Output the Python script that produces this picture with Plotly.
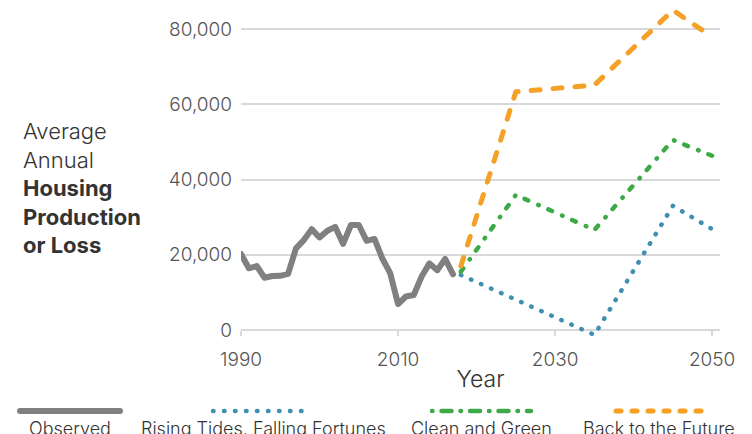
import plotly.graph_objects as go

# observed history, 1990-2017
obs_years = list(range(1990, 2018))
obs_values = [20200, 16400, 17000, 13900, 14350, 14400, 14900, 21700, 23900, 26800,
              24600, 26400, 27400, 22900, 27900, 27900, 23700, 24200, 19000, 15100,
              6900, 8900, 9300, 14200, 17700, 15900, 18900, 14800]

# scenario projections
proj_years = [2018, 2025, 2035, 2045, 2050]
rising_tides = [14600, 8000, -1300, 33000, 26800]
clean_green = [15500, 35900, 26600, 50500, 46300]
back_future = [17000, 63300, 65100, 85000, 77900]

x_ticks = [1990, 2010, 2030, 2050]

GRAY = "#808080"
BLUE = "#3F8FB0"
GREEN = "#3DAA47"
ORANGE = "#F5A027"
GRID = "#D9D9D9"
FONT = "Inter, Lato, sans-serif"
LIGHT = 300

W, H = 752, 434
OFF = 8  # page body margin: the figure sits 8px in from the window corner
L, R, T, B = 233, 40, 0, 104


def px(xs):  # screen pixel -> paper x
    return (xs - OFF - L) / (W - L - R)


def py(ys):  # screen pixel -> paper y
    return (H - B - (ys - OFF)) / (H - T - B)


fig = go.Figure()
fig.add_trace(go.Scatter(x=obs_years, y=obs_values, mode="lines",
                         line=dict(color=GRAY, width=6), name="Observed"))
fig.add_trace(go.Scatter(x=proj_years, y=rising_tides, mode="lines",
                         line=dict(color=BLUE, width=4.5, dash="0.5px,10.5px"),
                         name="Rising Tides, Falling Fortunes"))
fig.add_trace(go.Scatter(x=proj_years, y=clean_green, mode="lines",
                         line=dict(color=GREEN, width=4.5,
                                   dash="4px,11px,0.5px,10.5px"),
                         name="Clean and Green"))
fig.add_trace(go.Scatter(x=proj_years, y=back_future, mode="lines",
                         line=dict(color=ORANGE, width=5, dash="9px,13px"),
                         name="Back to the Future"))

# hand-built legend below the plot: sample line above a centred label
legend = [
    ("Observed", GRAY, 6, "solid", 20, 120, 70),
    ("Rising Tides, Falling Fortunes", BLUE, 4.5, "0.5px,10.5px", 213, 303, 263),
    ("Clean and Green", GREEN, 4.5, "0.5px,9px,10px,9px", 432, 531, 481),
    ("Back to the Future", ORANGE, 5, "5px,11px", 616, 702, 659),
]
for label, color, width, dash, x0, x1, xc in legend:
    fig.add_shape(type="line", xref="paper", yref="paper",
                  x0=px(x0), x1=px(x1), y0=py(411), y1=py(411),
                  line=dict(color=color, width=width, dash=dash))
    fig.add_annotation(text=label, xref="paper", yref="paper",
                       x=px(xc), y=py(428), xanchor="center", yanchor="middle",
                       showarrow=False,
                       font=dict(size=18, color="#333333", weight=LIGHT))

fig.add_annotation(
    text="Average<br>Annual<br><b>Housing</b><br><b>Production</b><br><b>or Loss</b>",
    xref="paper", yref="paper", x=px(21), y=py(188), xanchor="left",
    yanchor="middle", align="left", showarrow=False,
    font=dict(size=22, color="#333333", weight=LIGHT))

# screen px -> data: 0 sits at y=330, 20,000 spans 75.25px
fig.update_layout(
    width=W, height=H,
    margin=dict(l=L, r=R, t=T, b=B),
    paper_bgcolor="white", plot_bgcolor="white",
    font=dict(family=FONT, color="#555555"),
    showlegend=False,
    xaxis=dict(range=[1990, 2051], tickvals=x_ticks, showgrid=False,
               zeroline=False, showline=False, ticks="outside", ticklen=5,
               tickcolor=GRID, tickwidth=1.5, anchor="free",
               position=py(330), ticklabelstandoff=7,
               tickfont=dict(size=19, color="#555555", weight=LIGHT),
               title=dict(text="Year",
                          font=dict(size=23, color="#333333", weight=LIGHT),
                          standoff=1)),
    yaxis=dict(range=[-2126, 85580], dtick=20000, tickformat=",",
               showgrid=True, gridcolor=GRID, gridwidth=1.5,
               zeroline=True, zerolinecolor=GRID, zerolinewidth=1.5,
               ticklabelstandoff=8,
               tickfont=dict(size=19, color="#555555", weight=LIGHT)),
)

round_caps = ("document.querySelectorAll('.scatterlayer .js-line, .shapelayer path')"
              ".forEach(function(p){p.style.strokeLinecap='round';"
              "p.style.strokeLinejoin='round';});")
fig.write_html("out.html", post_script=round_caps)
